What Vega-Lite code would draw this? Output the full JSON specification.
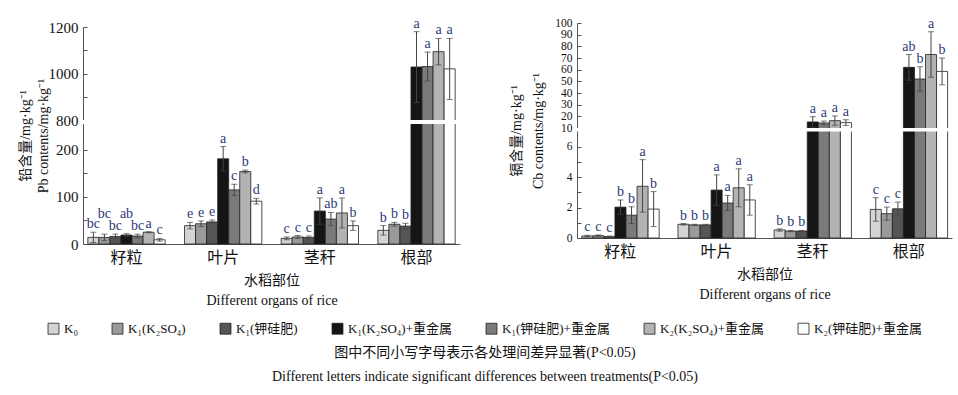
{
  "$schema": "https://vega.github.io/schema/vega-lite/v6.json",
  "padding": {"left": 18, "top": 16, "right": 5, "bottom": 5},
  "config": {
    "font": "Liberation Serif, Noto Sans CJK SC",
    "view": {"stroke": null},
    "text": {"font": "Liberation Serif, Noto Sans CJK SC"},
    "axisY": {"labelOverlap": false, "labelFlush": false}
  },
  "datasets": {
    "pb": [
      {"organ": "籽粒", "trt": "K₀", "mean": 14, "lo": 3, "hi": 25, "sig": "bc"},
      {"organ": "籽粒", "trt": "K₁(K₂SO₄)", "mean": 14, "lo": 7, "hi": 21, "sig": "bc"},
      {"organ": "籽粒", "trt": "K₁(钾硅肥)", "mean": 16, "lo": 11, "hi": 21, "sig": "bc"},
      {"organ": "籽粒", "trt": "K₁(K₂SO₄)+重金属", "mean": 19, "lo": 16, "hi": 22, "sig": "ab"},
      {"organ": "籽粒", "trt": "K₁(钾硅肥)+重金属", "mean": 17, "lo": 13, "hi": 21, "sig": "bc"},
      {"organ": "籽粒", "trt": "K₂(K₂SO₄)+重金属", "mean": 25, "lo": 24, "hi": 26, "sig": "a"},
      {"organ": "籽粒", "trt": "K₂(钾硅肥)+重金属", "mean": 9, "lo": 6, "hi": 12, "sig": "c"},
      {"organ": "叶片", "trt": "K₀", "mean": 39, "lo": 32, "hi": 46, "sig": "e"},
      {"organ": "叶片", "trt": "K₁(K₂SO₄)", "mean": 43, "lo": 37, "hi": 49, "sig": "e"},
      {"organ": "叶片", "trt": "K₁(钾硅肥)", "mean": 47, "lo": 43, "hi": 51, "sig": "e"},
      {"organ": "叶片", "trt": "K₁(K₂SO₄)+重金属", "mean": 181, "lo": 155, "hi": 207, "sig": "a"},
      {"organ": "叶片", "trt": "K₁(钾硅肥)+重金属", "mean": 115, "lo": 103, "hi": 127, "sig": "c"},
      {"organ": "叶片", "trt": "K₂(K₂SO₄)+重金属", "mean": 154, "lo": 151, "hi": 157, "sig": "b"},
      {"organ": "叶片", "trt": "K₂(钾硅肥)+重金属", "mean": 91, "lo": 85, "hi": 97, "sig": "d"},
      {"organ": "茎秆", "trt": "K₀", "mean": 12, "lo": 9, "hi": 15, "sig": "c"},
      {"organ": "茎秆", "trt": "K₁(K₂SO₄)", "mean": 15, "lo": 12, "hi": 18, "sig": "c"},
      {"organ": "茎秆", "trt": "K₁(钾硅肥)", "mean": 14, "lo": 11, "hi": 17, "sig": "c"},
      {"organ": "茎秆", "trt": "K₁(K₂SO₄)+重金属", "mean": 70, "lo": 42, "hi": 98, "sig": "a"},
      {"organ": "茎秆", "trt": "K₁(钾硅肥)+重金属", "mean": 53, "lo": 39, "hi": 67, "sig": "ab"},
      {"organ": "茎秆", "trt": "K₂(K₂SO₄)+重金属", "mean": 66, "lo": 34, "hi": 98, "sig": "a"},
      {"organ": "茎秆", "trt": "K₂(钾硅肥)+重金属", "mean": 39, "lo": 29, "hi": 49, "sig": "b"},
      {"organ": "根部", "trt": "K₀", "mean": 29, "lo": 19, "hi": 39, "sig": "b"},
      {"organ": "根部", "trt": "K₁(K₂SO₄)", "mean": 42, "lo": 38, "hi": 46, "sig": "b"},
      {"organ": "根部", "trt": "K₁(钾硅肥)", "mean": 38, "lo": 32, "hi": 44, "sig": "b"},
      {"organ": "根部", "trt": "K₁(K₂SO₄)+重金属", "mean": 1028, "lo": 875, "hi": 1180, "sig": "a"},
      {"organ": "根部", "trt": "K₁(钾硅肥)+重金属", "mean": 1030, "lo": 968, "hi": 1092, "sig": "a"},
      {"organ": "根部", "trt": "K₂(K₂SO₄)+重金属", "mean": 1094, "lo": 1037, "hi": 1151, "sig": "a"},
      {"organ": "根部", "trt": "K₂(钾硅肥)+重金属", "mean": 1020, "lo": 888, "hi": 1151, "sig": "a"}
    ],
    "cd": [
      {"organ": "籽粒", "trt": "K₀", "mean": 0.13, "lo": 0.08, "hi": 0.18, "sig": "c"},
      {"organ": "籽粒", "trt": "K₁(K₂SO₄)", "mean": 0.15, "lo": 0.1, "hi": 0.2, "sig": "c"},
      {"organ": "籽粒", "trt": "K₁(钾硅肥)", "mean": 0.09, "lo": 0.05, "hi": 0.13, "sig": "c"},
      {"organ": "籽粒", "trt": "K₁(K₂SO₄)+重金属", "mean": 2.03, "lo": 1.55, "hi": 2.5, "sig": "b"},
      {"organ": "籽粒", "trt": "K₁(钾硅肥)+重金属", "mean": 1.5, "lo": 0.95, "hi": 2.05, "sig": "b"},
      {"organ": "籽粒", "trt": "K₂(K₂SO₄)+重金属", "mean": 3.4, "lo": 1.7, "hi": 5.15, "sig": "a"},
      {"organ": "籽粒", "trt": "K₂(钾硅肥)+重金属", "mean": 1.9, "lo": 0.75, "hi": 3.05, "sig": "b"},
      {"organ": "叶片", "trt": "K₀", "mean": 0.9, "lo": 0.85, "hi": 0.95, "sig": "b"},
      {"organ": "叶片", "trt": "K₁(K₂SO₄)", "mean": 0.86, "lo": 0.82, "hi": 0.9, "sig": "b"},
      {"organ": "叶片", "trt": "K₁(钾硅肥)", "mean": 0.86, "lo": 0.82, "hi": 0.9, "sig": "b"},
      {"organ": "叶片", "trt": "K₁(K₂SO₄)+重金属", "mean": 3.15, "lo": 2.15, "hi": 4.15, "sig": "a"},
      {"organ": "叶片", "trt": "K₁(钾硅肥)+重金属", "mean": 2.3, "lo": 1.8, "hi": 2.8, "sig": "a"},
      {"organ": "叶片", "trt": "K₂(K₂SO₄)+重金属", "mean": 3.3, "lo": 2.05, "hi": 4.55, "sig": "a"},
      {"organ": "叶片", "trt": "K₂(钾硅肥)+重金属", "mean": 2.5, "lo": 1.5, "hi": 3.5, "sig": "a"},
      {"organ": "茎秆", "trt": "K₀", "mean": 0.53, "lo": 0.45, "hi": 0.6, "sig": "b"},
      {"organ": "茎秆", "trt": "K₁(K₂SO₄)", "mean": 0.46, "lo": 0.42, "hi": 0.5, "sig": "b"},
      {"organ": "茎秆", "trt": "K₁(钾硅肥)", "mean": 0.46, "lo": 0.42, "hi": 0.5, "sig": "b"},
      {"organ": "茎秆", "trt": "K₁(K₂SO₄)+重金属", "mean": 15.2, "lo": 10.7, "hi": 19.7, "sig": "a"},
      {"organ": "茎秆", "trt": "K₁(钾硅肥)+重金属", "mean": 14.3, "lo": 12.7, "hi": 15.9, "sig": "a"},
      {"organ": "茎秆", "trt": "K₂(K₂SO₄)+重金属", "mean": 16.3, "lo": 12.3, "hi": 20.3, "sig": "a"},
      {"organ": "茎秆", "trt": "K₂(钾硅肥)+重金属", "mean": 14.6, "lo": 12.1, "hi": 17.1, "sig": "a"},
      {"organ": "根部", "trt": "K₀", "mean": 1.88, "lo": 1.1, "hi": 2.65, "sig": "c"},
      {"organ": "根部", "trt": "K₁(K₂SO₄)", "mean": 1.6, "lo": 1.17, "hi": 2.03, "sig": "c"},
      {"organ": "根部", "trt": "K₁(钾硅肥)", "mean": 1.92, "lo": 1.5, "hi": 2.36, "sig": "c"},
      {"organ": "根部", "trt": "K₁(K₂SO₄)+重金属", "mean": 62, "lo": 51, "hi": 73, "sig": "ab"},
      {"organ": "根部", "trt": "K₁(钾硅肥)+重金属", "mean": 52, "lo": 41.5, "hi": 62.5, "sig": "b"},
      {"organ": "根部", "trt": "K₂(K₂SO₄)+重金属", "mean": 73, "lo": 53.5, "hi": 92.5, "sig": "a"},
      {"organ": "根部", "trt": "K₂(钾硅肥)+重金属", "mean": 58.5, "lo": 47, "hi": 70, "sig": "b"}
    ]
  },
  "title": {
    "text": ["图中不同小写字母表示各处理间差异显著(P<0.05)", "Different letters indicate significant differences between treatments(P<0.05)"],
    "orient": "bottom",
    "anchor": "middle",
    "fontSize": 14,
    "fontWeight": "normal",
    "lineHeight": 24,
    "offset": 10,
    "color": "#111"
  },
  "spacing": 117,
  "bounds": "flush",
  "hconcat": [
    {
      "width": 377,
      "height": 221,
      "data": {"name": "pb"},
      "layer": [
        {
          "encoding": {
            "x": {"field": "organ", "type": "nominal", "sort": ["籽粒", "叶片", "茎秆", "根部"],
              "scale": {"paddingInner": 0.2, "paddingOuter": 0.05},
              "axis": {"title": ["水稻部位", "Different organs of rice"], "labelAngle": 0, "labelFontSize": 16, "labelPadding": 5, "ticks": false, "domainColor": "#555", "titleFontSize": 14, "titleFontWeight": "normal", "titleLineHeight": 20, "titlePadding": 8, "labelColor": "#111", "titleColor": "#111"}},
            "xOffset": {"field": "trt", "type": "nominal", "sort": ["K₀", "K₁(K₂SO₄)", "K₁(钾硅肥)", "K₁(K₂SO₄)+重金属", "K₁(钾硅肥)+重金属", "K₂(K₂SO₄)+重金属", "K₂(钾硅肥)+重金属"], "scale": {"paddingInner": 0, "paddingOuter": 0}}
          },
          "layer": [
            {
              "mark": {"type": "bar", "stroke": "#222", "strokeWidth": 0.8},
              "encoding": {
                "y": {"field": "mean", "type": "quantitative",
                  "scale": {"domain": [0, 255, 800, 1200], "range": [221, 101, 97, 4], "nice": false, "zero": false},
                  "axis": {"title": ["铅含量/mg·kg⁻¹", "Pb contents/mg·kg⁻¹"], "values": [0, 50, 100, 150, 200, 800, 900, 1000, 1100, 1200],
                    "tickCount": 50,
                    "labelExpr": "indexof([0,100,200,800,1000,1200], datum.value) >= 0 ? datum.label : ''",
                    "format": "d", "tickSize": -4, "labelPadding": 9, "labelFontSize": 15, "labelOverlap": false, "labelFlush": false,
                    "grid": false, "domainColor": "#555", "tickColor": "#555", "titleFontSize": 14, "titleFontWeight": "normal",
                    "titlePadding": -2, "titleLineHeight": 18, "labelColor": "#111", "titleColor": "#111"}},
                "color": {"field": "trt", "type": "nominal",
                  "scale": {"domain": ["K₀", "K₁(K₂SO₄)", "K₁(钾硅肥)", "K₁(K₂SO₄)+重金属", "K₁(钾硅肥)+重金属", "K₂(K₂SO₄)+重金属", "K₂(钾硅肥)+重金属"],
                    "range": ["#d4d4d4", "#9a9a9a", "#555555", "#151515", "#7a7a7a", "#b3b3b3", "#ffffff"]},
                  "legend": {"orient": "none", "legendX": -36, "legendY": 299, "direction": "horizontal", "columns": 7, "title": null, "symbolType": "square", "symbolSize": 120,
                    "symbolStrokeColor": "#222", "symbolStrokeWidth": 0.8, "labelFontSize": 13, "columnPadding": 32, "labelColor": "#111"}}
              }
            },
            {
              "mark": {"type": "rule", "color": "#444", "strokeWidth": 1},
              "encoding": {"y": {"field": "lo", "type": "quantitative"}, "y2": {"field": "hi"}}
            },
            {
              "mark": {"type": "tick", "orient": "horizontal", "color": "#444", "size": 6, "thickness": 1},
              "encoding": {"y": {"field": "hi", "type": "quantitative"}}
            },
            {
              "mark": {"type": "tick", "orient": "horizontal", "color": "#444", "size": 6, "thickness": 1},
              "encoding": {"y": {"field": "lo", "type": "quantitative"}}
            },
            {
              "mark": {"type": "text", "fontSize": 14, "color": "#2b3a78",
                "dy": {"expr": "datum.organ === '籽粒' && (datum.trt === 'K₁(K₂SO₄)' || datum.trt === 'K₁(K₂SO₄)+重金属') ? -20 : -8"}},
              "encoding": {"y": {"field": "hi", "type": "quantitative"}, "text": {"field": "sig"}}
            }
          ]
        },
        {
          "data": {"values": [{"from": 256, "to": 799}]},
          "mark": {"type": "rect", "color": "#ffffff"},
          "encoding": {"y": {"field": "from", "type": "quantitative"}, "y2": {"field": "to"}}
        }
      ]
    },
    {
      "width": 375,
      "height": 215,
      "data": {"name": "cd"},
      "layer": [
        {
          "encoding": {
            "x": {"field": "organ", "type": "nominal", "sort": ["籽粒", "叶片", "茎秆", "根部"],
              "scale": {"paddingInner": 0.2, "paddingOuter": 0.05},
              "axis": {"title": ["水稻部位", "Different organs of rice"], "labelAngle": 0, "labelFontSize": 16, "labelPadding": 5, "ticks": false, "domainColor": "#555", "titleFontSize": 14, "titleFontWeight": "normal", "titleLineHeight": 20, "titlePadding": 8, "labelColor": "#111", "titleColor": "#111"}},
            "xOffset": {"field": "trt", "type": "nominal", "sort": ["K₀", "K₁(K₂SO₄)", "K₁(钾硅肥)", "K₁(K₂SO₄)+重金属", "K₁(钾硅肥)+重金属", "K₂(K₂SO₄)+重金属", "K₂(钾硅肥)+重金属"], "scale": {"paddingInner": 0, "paddingOuter": 0}}
          },
          "layer": [
            {
              "mark": {"type": "bar", "stroke": "#222", "strokeWidth": 0.8},
              "encoding": {
                "y": {"field": "mean", "type": "quantitative",
                  "scale": {"domain": [0, 7, 10, 100], "range": [215, 108.5, 105, 0], "nice": false, "zero": false},
                  "axis": {"title": ["镉含量/mg·kg⁻¹", "Cb contents/mg·kg⁻¹"], "values": [0, 1, 2, 3, 4, 5, 6, 10, 20, 30, 40, 50, 60, 70, 80, 90, 100],
                    "tickCount": 50,
                    "labelExpr": "datum.value < 7 && datum.value % 2 === 1 ? '' : datum.label",
                    "format": "d", "tickSize": -4, "labelPadding": 9, "labelFontSize": 11.5, "labelOverlap": false, "labelFlush": false,
                    "grid": false, "domainColor": "#555", "tickColor": "#555", "titleFontSize": 14, "titleFontWeight": "normal",
                    "titlePadding": 9, "titleLineHeight": 22, "labelColor": "#111", "titleColor": "#111"}},
                "color": {"field": "trt", "type": "nominal"}
              }
            },
            {
              "mark": {"type": "rule", "color": "#444", "strokeWidth": 1},
              "encoding": {"y": {"field": "lo", "type": "quantitative"}, "y2": {"field": "hi"}}
            },
            {
              "mark": {"type": "tick", "orient": "horizontal", "color": "#444", "size": 6, "thickness": 1},
              "encoding": {"y": {"field": "hi", "type": "quantitative"}}
            },
            {
              "mark": {"type": "tick", "orient": "horizontal", "color": "#444", "size": 6, "thickness": 1},
              "encoding": {"y": {"field": "lo", "type": "quantitative"}}
            },
            {
              "mark": {"type": "text", "dy": -8, "fontSize": 14, "color": "#2b3a78"},
              "encoding": {"y": {"field": "hi", "type": "quantitative"}, "text": {"field": "sig"}}
            }
          ]
        },
        {
          "data": {"values": [{"from": 7.02, "to": 9.95}]},
          "mark": {"type": "rect", "color": "#ffffff"},
          "encoding": {"y": {"field": "from", "type": "quantitative"}, "y2": {"field": "to"}}
        }
      ]
    }
  ]
}
